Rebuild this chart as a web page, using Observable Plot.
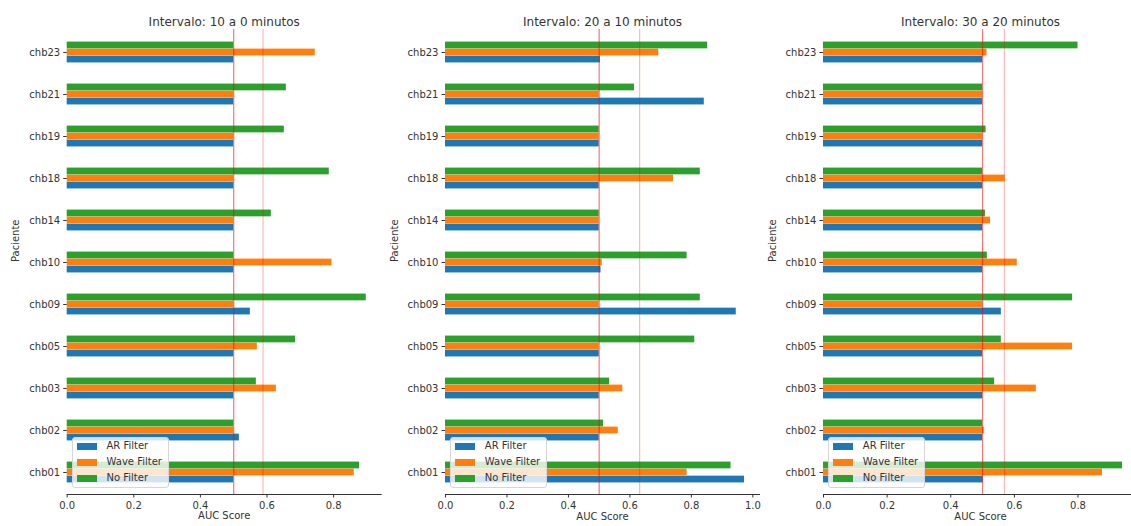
<!DOCTYPE html>
<html>
<head>
<meta charset="utf-8">
<script src="https://cdn.jsdelivr.net/npm/d3@7"></script>
<script src="https://cdn.jsdelivr.net/npm/@observablehq/plot@0.6"></script>
<style>
  html, body { margin: 0; padding: 0; background: #fff; overflow: hidden; }
  #chart { position: relative; width: 1131px; height: 526px; font-family: "DejaVu Sans", sans-serif; color: #333; }
  .panel { position: absolute; top: 0; }
  .panel svg { max-width: none !important; }
  .legend {
    position: absolute; box-sizing: border-box;
    background: rgba(255,255,255,0.8); border: 1px solid #d6d6d6; border-radius: 3px;
    font-family: "DejaVu Sans", sans-serif; font-size: 10px; color: #333;
  }
  .legend .sw { position: absolute; width: 20px; height: 7px; }
  .legend .lb { position: absolute; line-height: 12px; white-space: nowrap; }
</style>
</head>
<body>
<div id="chart"></div>
<script>
// Patients (bottom to top in each panel)
const patients = ["chb01", "chb02", "chb03", "chb05", "chb09", "chb10", "chb14", "chb18", "chb19", "chb21", "chb23"];
const seriesNames = ["AR Filter", "Wave Filter", "No Filter"];
const seriesColors = ["#1f77b4", "#ff7f0e", "#2ca02c"];
const intervals = ["10 a 0", "20 a 10", "30 a 20"];

// AUC scores per patient, interval 10 a 0 minutos
const arFilter10 = [0.500, 0.517, 0.500, 0.500, 0.550, 0.500, 0.500, 0.500, 0.500, 0.500, 0.500];
const waveFilter10 = [0.862, 0.500, 0.628, 0.571, 0.500, 0.795, 0.500, 0.500, 0.500, 0.500, 0.745];
const noFilter10 = [0.878, 0.500, 0.568, 0.686, 0.898, 0.500, 0.613, 0.787, 0.652, 0.658, 0.500];

// AUC scores per patient, interval 20 a 10 minutos
const arFilter20 = [0.973, 0.500, 0.500, 0.500, 0.946, 0.506, 0.500, 0.500, 0.500, 0.842, 0.504];
const waveFilter20 = [0.786, 0.562, 0.577, 0.500, 0.500, 0.510, 0.500, 0.742, 0.500, 0.500, 0.694];
const noFilter20 = [0.929, 0.514, 0.534, 0.811, 0.829, 0.786, 0.500, 0.829, 0.500, 0.615, 0.853];

// AUC scores per patient, interval 30 a 20 minutos
const arFilter30 = [0.502, 0.500, 0.500, 0.500, 0.559, 0.500, 0.500, 0.500, 0.500, 0.500, 0.500];
const waveFilter30 = [0.877, 0.505, 0.669, 0.783, 0.500, 0.609, 0.525, 0.571, 0.500, 0.500, 0.514];
const noFilter30 = [0.940, 0.500, 0.538, 0.559, 0.783, 0.515, 0.509, 0.500, 0.511, 0.500, 0.800];

const chanceLevel = 0.5;
const xTicks = [0, 0.2, 0.4, 0.6, 0.8, 1.0];

const panelsData = [
  [arFilter10, waveFilter10, noFilter10],
  [arFilter20, waveFilter20, noFilter20],
  [arFilter30, waveFilter30, noFilter30]
];

// Layout
const H = 526, marginTop = 29, marginBottom = 32, plotW = 314;
const panelLeft = [0, 381, 759];
const panelMarginLeft = [66.7, 64, 64];
const root = document.getElementById("chart");

const bandW = (H - marginTop - marginBottom) / patients.length;
const groupW = bandW * 0.5;
const barH = groupW / 3;

panelsData.forEach((seriesVals, p) => {
  const all = seriesVals.flat();
  const xMax = d3.max(all) * 1.05;
  const meanAuc = d3.mean(all);

  const barMarks = seriesVals.map((vals, k) => {
    const rows = patients.map((pt, i) => ({patient: pt, value: vals[i]}));
    const top = bandW / 2 - groupW / 2 + (2 - k) * barH;
    return Plot.barX(rows, {
      y: "patient", x1: 0, x2: "value",
      fill: seriesColors[k],
      insetTop: top, insetBottom: bandW - top - barH
    });
  });

  const ml = panelMarginLeft[p];
  const W = ml + plotW;
  const svg = Plot.plot({
    width: W,
    height: H,
    marginLeft: ml,
    marginRight: 0,
    marginTop,
    marginBottom,
    style: {fontFamily: "DejaVu Sans, sans-serif", fontSize: "10px", color: "#333", overflow: "visible", background: "transparent", maxWidth: "none"},
    x: {domain: [0, xMax]},
    y: {domain: patients.slice().reverse(), padding: 0},
    marks: [
      ...barMarks,
      Plot.ruleX([chanceLevel], {stroke: "red", strokeOpacity: 0.55, strokeWidth: 1.2}),
      Plot.ruleX([meanAuc], {stroke: "red", strokeOpacity: 0.28, strokeWidth: 1.2}),
      Plot.frame({anchor: "bottom", stroke: "#333"}),
      Plot.axisX({ticks: xTicks.filter(t => t <= xMax), tickFormat: d3.format(".1f"), tickSize: 3.5, tickPadding: 3.5, label: null}),
      Plot.axisY({tickSize: 3.5, tickPadding: 3.5, label: null}),
      Plot.text([`Intervalo: ${intervals[p]} minutos`], {frameAnchor: "top", dy: -12, fontSize: 12, fill: "#333"}),
      Plot.text(["AUC Score"], {frameAnchor: "bottom", dy: 25, fontSize: 10, fill: "#333"}),
      Plot.text(["Paciente"], {frameAnchor: "left", dx: -51, rotate: -90, fontSize: 10, fill: "#333"})
    ]
  });
  svg.style.width = W + "px";
  svg.style.height = H + "px";

  const wrap = document.createElement("div");
  wrap.className = "panel";
  wrap.style.left = panelLeft[p] + "px";
  wrap.style.width = W + "px";
  wrap.style.height = H + "px";
  wrap.appendChild(svg);
  root.appendChild(wrap);

  // Legend in the lower-left corner of the panel
  const lg = document.createElement("div");
  lg.className = "legend";
  const lgLeft = panelLeft[p] + ml + 5.3;
  lg.style.left = lgLeft + "px";
  lg.style.top = "437px";
  lg.style.width = "97px";
  lg.style.height = "51px";
  seriesNames.forEach((name, k) => {
    const cy = 8 + k * 16.2;
    const sw = document.createElement("div");
    sw.className = "sw";
    sw.style.background = seriesColors[k];
    sw.style.left = "3.5px";
    sw.style.top = (cy - 3.5) + "px";
    const lb = document.createElement("div");
    lb.className = "lb";
    lb.textContent = name;
    lb.style.left = "33.5px";
    lb.style.top = (cy - 6.5) + "px";
    lg.appendChild(sw);
    lg.appendChild(lb);
  });
  root.appendChild(lg);
});
</script>
</body>
</html>
